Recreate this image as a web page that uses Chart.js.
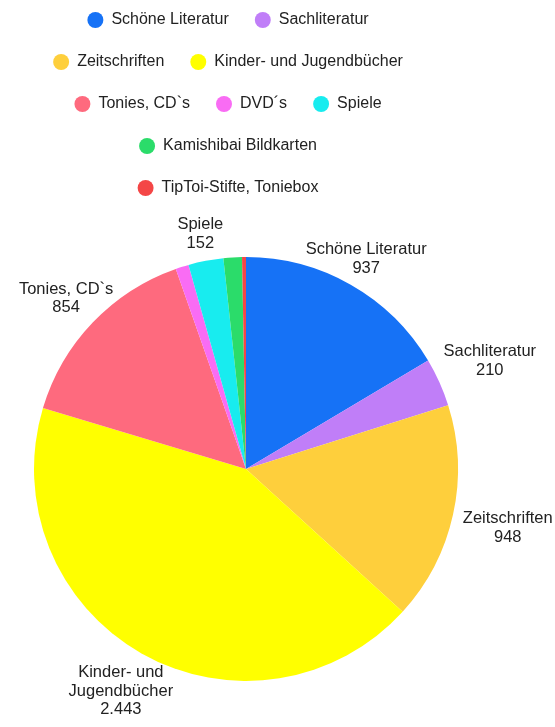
<!DOCTYPE html>
<html><head><meta charset="utf-8">
<script src="https://cdn.jsdelivr.net/npm/chart.js@4/dist/chart.umd.min.js"></script>
<style>html,body{margin:0;padding:0;background:#fff;}canvas{display:block}</style>
</head><body>
<canvas id="c" width="555" height="727"></canvas>
<script>
const categories = ['Schöne Literatur', 'Sachliteratur', 'Zeitschriften', 'Kinder- und Jugendbücher', 'Tonies, CD`s', 'DVD´s', 'Spiele', 'Kamishibai Bildkarten', 'TipToi-Stifte, Toniebox'];
const values = [937, 210, 948, 2443, 854, 57, 152, 80, 17];
const colors = ['#1672f6', '#c07ef8', '#fecf3c', '#ffff00', '#fe6a7e', '#f96cf4', '#18ecef', '#2bdc6a', '#f44646'];

const FONT = '"Liberation Sans", Arial, sans-serif';
const TEXT = '#222222';

function fmt(n) { return String(n).replace(/\B(?=(\d{3})+(?!\d))/g, '.'); }

function wrap(ctx, text, maxW) {
  const words = text.split(' ');
  const lines = [];
  let cur = '';
  words.forEach(w => {
    const t = cur ? cur + ' ' + w : w;
    if (cur && ctx.measureText(t).width > maxW) { lines.push(cur); cur = w; }
    else cur = t;
  });
  if (cur) lines.push(cur);
  return lines;
}

const legendShift = {
  id: 'legendShift',
  afterLayout(chart) {
    const l = chart.legend;
    l.left -= 18; l.right -= 18; l.top -= 14; l.bottom -= 14;
  }
};

const outsideLabels = {
  id: 'outsideLabels',
  afterDatasetsDraw(chart) {
    const ctx = chart.ctx;
    const meta = chart.getDatasetMeta(0);
    const total = values.reduce((a, b) => a + b, 0);
    const fs = 16.5, lh = 18.5, off = 10, maxW = 150;
    ctx.save();
    ctx.font = fs + 'px ' + FONT;
    ctx.fillStyle = TEXT;
    ctx.textAlign = 'center';
    ctx.textBaseline = 'alphabetic';
    const capHalf = fs * 0.716 / 2;
    meta.data.forEach((arc, i) => {
      if (values[i] / total < 0.02) return;
      const p = arc.getProps(['x', 'y', 'startAngle', 'endAngle', 'outerRadius'], true);
      const mid = (p.startAngle + p.endAngle) / 2;
      const ux = Math.cos(mid), uy = Math.sin(mid);
      const lines = wrap(ctx, categories[i], maxW).concat([fmt(values[i])]);
      const w = Math.max(...lines.map(s => ctx.measureText(s).width));
      const h = lines.length * lh;
      const ex = Math.abs(ux) > 1e-6 ? (w / 2) / Math.abs(ux) : Infinity;
      const ey = Math.abs(uy) > 1e-6 ? (h / 2) / Math.abs(uy) : Infinity;
      const k = p.outerRadius + off + Math.min(ex, ey);
      const cx = p.x + ux * k, cy = p.y + uy * k;
      lines.forEach((s, j) => ctx.fillText(s, cx, cy + (j - (lines.length - 1) / 2) * lh + capHalf));
    });
    ctx.restore();
  }
};

new Chart(document.getElementById('c'), {
  type: 'pie',
  data: {
    labels: categories,
    datasets: [{ data: values, backgroundColor: colors, borderWidth: 0, hoverOffset: 0 }]
  },
  options: {
    responsive: false,
    animation: false,
    devicePixelRatio: 1,
    layout: { padding: { top: 0, bottom: 9, left: 34, right: 97 } },
    plugins: {
      legend: {
        position: 'top',
        labels: {
          usePointStyle: true,
          pointStyle: 'circle',
          boxWidth: 19,
          boxHeight: 11.3,
          padding: 26,
          color: TEXT,
          font: { size: 16, family: FONT }
        }
      },
      tooltip: { enabled: false }
    }
  },
  plugins: [legendShift, outsideLabels]
});
</script>
</body></html>
